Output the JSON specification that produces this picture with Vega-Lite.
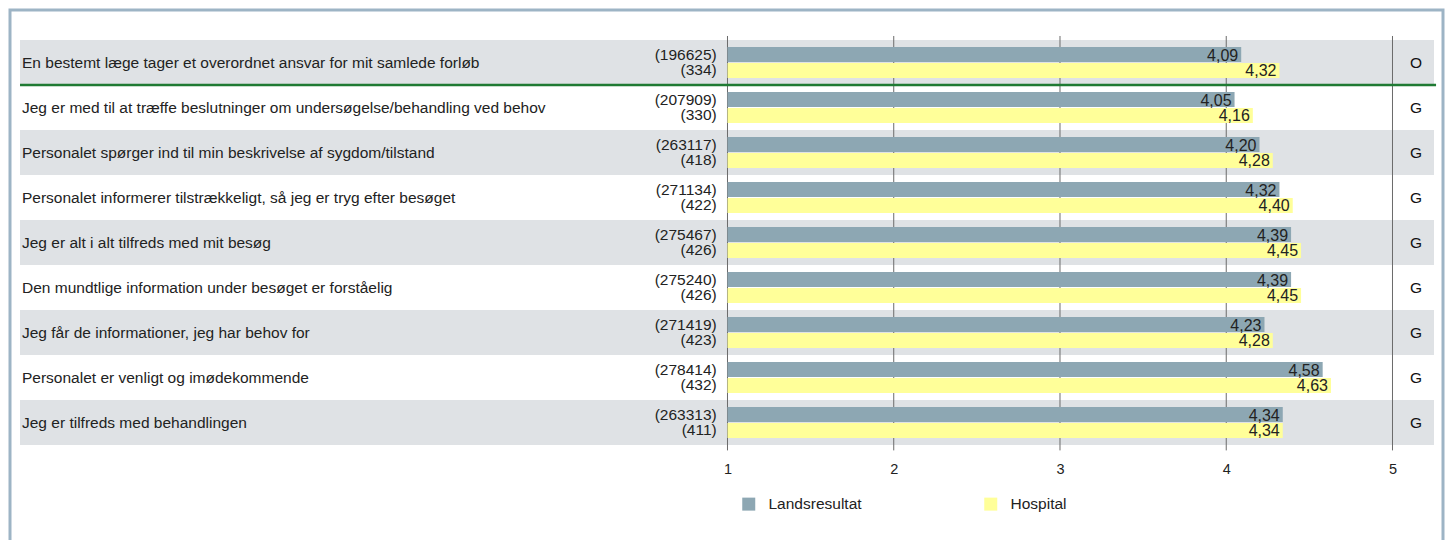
{
  "$schema": "https://vega.github.io/schema/vega-lite/v6.json",
  "autosize": {"type": "none"},
  "padding": {"left": 10, "top": 10, "right": 7, "bottom": 0},
  "width": 1433,
  "height": 540,
  "background": "white",
  "config": {
    "font": "Liberation Sans",
    "locale": {"number": {"decimal": ",", "thousands": ".", "grouping": [3], "currency": ["(", ")"]}},
    "view": {"stroke": "#9db4c5", "strokeWidth": 3}
  },
  "datasets": {
    "questions": [
      {"q": "En bestemt læge tager et overordnet ansvar for mit samlede forløb", "grade": "O"},
      {"q": "Jeg er med til at træffe beslutninger om undersøgelse/behandling ved behov", "grade": "G"},
      {"q": "Personalet spørger ind til min beskrivelse af sygdom/tilstand", "grade": "G"},
      {"q": "Personalet informerer tilstrækkeligt, så jeg er tryg efter besøget", "grade": "G"},
      {"q": "Jeg er alt i alt tilfreds med mit besøg", "grade": "G"},
      {"q": "Den mundtlige information under besøget er forståelig", "grade": "G"},
      {"q": "Jeg får de informationer, jeg har behov for", "grade": "G"},
      {"q": "Personalet er venligt og imødekommende", "grade": "G"},
      {"q": "Jeg er tilfreds med behandlingen", "grade": "G"}
    ],
    "scores": [
      {"q": "En bestemt læge tager et overordnet ansvar for mit samlede forløb", "series": "Landsresultat", "value": 4.09, "n": 196625},
      {"q": "En bestemt læge tager et overordnet ansvar for mit samlede forløb", "series": "Hospital", "value": 4.32, "n": 334},
      {"q": "Jeg er med til at træffe beslutninger om undersøgelse/behandling ved behov", "series": "Landsresultat", "value": 4.05, "n": 207909},
      {"q": "Jeg er med til at træffe beslutninger om undersøgelse/behandling ved behov", "series": "Hospital", "value": 4.16, "n": 330},
      {"q": "Personalet spørger ind til min beskrivelse af sygdom/tilstand", "series": "Landsresultat", "value": 4.20, "n": 263117},
      {"q": "Personalet spørger ind til min beskrivelse af sygdom/tilstand", "series": "Hospital", "value": 4.28, "n": 418},
      {"q": "Personalet informerer tilstrækkeligt, så jeg er tryg efter besøget", "series": "Landsresultat", "value": 4.32, "n": 271134},
      {"q": "Personalet informerer tilstrækkeligt, så jeg er tryg efter besøget", "series": "Hospital", "value": 4.40, "n": 422},
      {"q": "Jeg er alt i alt tilfreds med mit besøg", "series": "Landsresultat", "value": 4.39, "n": 275467},
      {"q": "Jeg er alt i alt tilfreds med mit besøg", "series": "Hospital", "value": 4.45, "n": 426},
      {"q": "Den mundtlige information under besøget er forståelig", "series": "Landsresultat", "value": 4.39, "n": 275240},
      {"q": "Den mundtlige information under besøget er forståelig", "series": "Hospital", "value": 4.45, "n": 426},
      {"q": "Jeg får de informationer, jeg har behov for", "series": "Landsresultat", "value": 4.23, "n": 271419},
      {"q": "Jeg får de informationer, jeg har behov for", "series": "Hospital", "value": 4.28, "n": 423},
      {"q": "Personalet er venligt og imødekommende", "series": "Landsresultat", "value": 4.58, "n": 278414},
      {"q": "Personalet er venligt og imødekommende", "series": "Hospital", "value": 4.63, "n": 432},
      {"q": "Jeg er tilfreds med behandlingen", "series": "Landsresultat", "value": 4.34, "n": 263313},
      {"q": "Jeg er tilfreds med behandlingen", "series": "Hospital", "value": 4.34, "n": 411}
    ],
    "ticks": [{"tick": 1}, {"tick": 2}, {"tick": 3}, {"tick": 4}, {"tick": 5}]
  },
  "layer": [
    {
      "data": {"name": "questions"},
      "transform": [
        {"window": [{"op": "row_number", "as": "rn"}]},
        {"filter": "datum.rn % 2 == 1"}
      ],
      "mark": {"type": "rect", "color": "#dfe2e5"},
      "encoding": {
        "y": {
          "field": "q", "type": "nominal", "axis": null,
          "scale": {
            "domain": [
              "En bestemt læge tager et overordnet ansvar for mit samlede forløb",
              "Jeg er med til at træffe beslutninger om undersøgelse/behandling ved behov",
              "Personalet spørger ind til min beskrivelse af sygdom/tilstand",
              "Personalet informerer tilstrækkeligt, så jeg er tryg efter besøget",
              "Jeg er alt i alt tilfreds med mit besøg",
              "Den mundtlige information under besøget er forståelig",
              "Jeg får de informationer, jeg har behov for",
              "Personalet er venligt og imødekommende",
              "Jeg er tilfreds med behandlingen"
            ],
            "range": [30, 435],
            "paddingInner": 0, "paddingOuter": 0
          }
        },
        "x": {"datum": -3.2556, "type": "quantitative", "scale": {"domain": [-3.3158, 5.3038], "nice": false, "zero": false}},
        "x2": {"datum": 5.2496}
      }
    },
    {
      "data": {"name": "ticks"},
      "mark": {"type": "rule", "color": "#6b6b6b", "strokeWidth": 1},
      "encoding": {
        "x": {"field": "tick", "type": "quantitative"},
        "y": {"datum": "En bestemt læge tager et overordnet ansvar for mit samlede forløb", "type": "nominal", "bandPosition": -0.089},
        "y2": {"datum": "Jeg er tilfreds med behandlingen", "bandPosition": 1.12}
      }
    },
    {
      "data": {"name": "questions"},
      "transform": [{"filter": "datum.grade == 'O'"}],
      "mark": {"type": "rule", "color": "#1f7a33", "strokeWidth": 2.5},
      "encoding": {
        "y": {"field": "q", "type": "nominal", "bandPosition": 1},
        "x": {"datum": -3.2556, "type": "quantitative"},
        "x2": {"datum": 5.262}
      }
    },
    {
      "data": {"name": "scores"},
      "mark": {"type": "bar"},
      "encoding": {
        "y": {"field": "q", "type": "nominal"},
        "yOffset": {"field": "series", "type": "nominal", "scale": {"domain": ["Landsresultat", "Hospital"], "paddingInner": 0.05, "paddingOuter": 0.45}},
        "x": {
          "field": "value", "type": "quantitative",
          "axis": {"values": [1, 2, 3, 4, 5], "title": null, "domain": false, "ticks": false, "grid": false, "labelFontSize": 14.5, "labelPadding": 0, "offset": -88, "labelColor": "#222222", "format": "d", "zindex": 1}
        },
        "x2": {"datum": 1},
        "color": {
          "field": "series", "type": "nominal",
          "scale": {"domain": ["Landsresultat", "Hospital"], "range": ["#8da7b3", "#ffff99"]},
          "legend": {"orient": "none", "legendX": 731, "legendY": 486, "direction": "horizontal", "title": null, "symbolType": "square", "symbolSize": 169, "symbolStrokeWidth": 0, "labelFontSize": 15.5, "labelColor": "#222222", "columnPadding": 121, "labelOffset": 12, "padding": 0}
        }
      }
    },
    {
      "data": {"name": "scores"},
      "mark": {"type": "text", "align": "right", "baseline": "middle", "dx": -3, "dy": 1, "fontSize": 16, "color": "#222222"},
      "encoding": {
        "y": {"field": "q", "type": "nominal"},
        "yOffset": {"field": "series", "type": "nominal"},
        "x": {"field": "value", "type": "quantitative"},
        "text": {"field": "value", "type": "quantitative", "format": ".2f"}
      }
    },
    {
      "data": {"name": "scores"},
      "mark": {"type": "text", "align": "right", "baseline": "middle", "fontSize": 15.5, "color": "#222222"},
      "encoding": {
        "y": {"field": "q", "type": "nominal"},
        "yOffset": {"field": "series", "type": "nominal"},
        "x": {"datum": 0.935, "type": "quantitative"},
        "text": {"field": "n", "type": "quantitative", "format": "$d"}
      }
    },
    {
      "data": {"name": "questions"},
      "mark": {"type": "text", "align": "left", "baseline": "middle", "fontSize": 15.5, "color": "#222222"},
      "encoding": {
        "y": {"field": "q", "type": "nominal"},
        "x": {"datum": -3.2436, "type": "quantitative"},
        "text": {"field": "q", "type": "nominal"}
      }
    },
    {
      "data": {"name": "questions"},
      "mark": {"type": "text", "align": "center", "baseline": "middle", "fontSize": 15.5, "color": "#111111"},
      "encoding": {
        "y": {"field": "q", "type": "nominal"},
        "x": {"datum": 5.1414, "type": "quantitative"},
        "text": {"field": "grade", "type": "nominal"}
      }
    }
  ]
}
